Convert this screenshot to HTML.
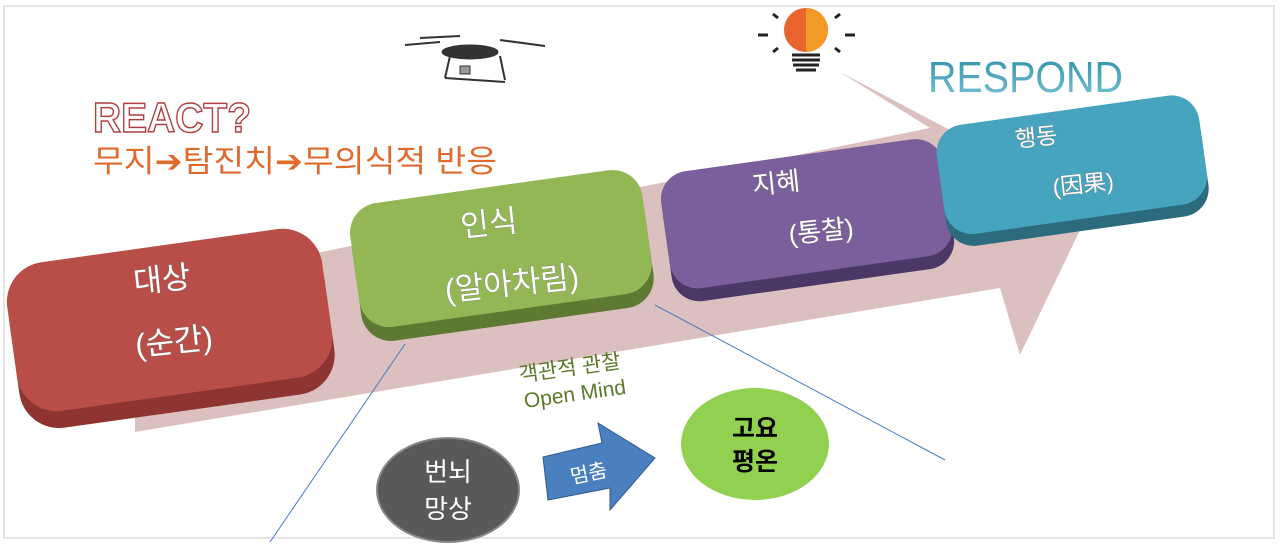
<!DOCTYPE html>
<html><head><meta charset="utf-8"><style>
html,body{margin:0;padding:0;background:#fff;}
svg{display:block;font-family:"Liberation Sans","Noto Sans CJK KR",sans-serif;}
</style></head><body>
<svg width="1280" height="548" viewBox="0 0 1280 548" xmlns="http://www.w3.org/2000/svg">
<defs>
<linearGradient id="resp" x1="0" y1="0" x2="0" y2="1"><stop offset="0" stop-color="#2a8fa8"/><stop offset="1" stop-color="#7cc3d4"/></linearGradient>
</defs>
<rect x="0" y="0" width="1280" height="548" fill="#fff"/>
<rect x="4" y="6" width="1270" height="532" fill="none" stroke="#e6e6e6" stroke-width="2"/>
<polygon points="135,290 930,128 840,72 1092,205 1020,355 1000,288 135,432" fill="#dcc0c0"/>
<line x1="405" y1="344" x2="270" y2="542" stroke="#4a7cc4" stroke-width="1"/>
<line x1="655" y1="305" x2="945" y2="460" stroke="#4a7cc4" stroke-width="1"/>
<g transform="rotate(-8 170 330)">
<rect x="12" y="262" width="318" height="150" rx="40" fill="#8e3532"/>
<rect x="12" y="245" width="318" height="150" rx="40" fill="#b94d47"/>
</g>
<g transform="rotate(-8 502 260)">
<rect x="355" y="200" width="295" height="125" rx="30" fill="#5e7a32"/>
<rect x="355" y="186" width="295" height="125" rx="30" fill="#94b756"/>
</g>
<g transform="rotate(-8 805 220)">
<rect x="665" y="168" width="285" height="118" rx="28" fill="#4b3867"/>
<rect x="665" y="155" width="285" height="118" rx="28" fill="#7a5f9c"/>
</g>
<g transform="rotate(-8 1070 170)">
<rect x="940" y="122" width="265" height="110" rx="28" fill="#2c6b7d"/>
<rect x="940" y="110" width="265" height="110" rx="28" fill="#47a4bf"/>
</g>
<g fill="#fff" style="paint-order:stroke" stroke="#777" stroke-width="0.6" font-size="31">
<text x="163" y="290" text-anchor="middle" transform="rotate(-6 163 290)">대상</text>
<text x="175" y="352" text-anchor="middle" transform="rotate(-6 175 352)">(순간)</text>
<text x="490" y="234" text-anchor="middle" transform="rotate(-6 490 234)">인식</text>
<text x="513" y="294" text-anchor="middle" transform="rotate(-6 513 294)">(알아차림)</text>
<text x="777" y="192" text-anchor="middle" font-size="26" transform="rotate(-6 777 192)">지혜</text>
<text x="822" y="240" text-anchor="middle" font-size="26" transform="rotate(-6 822 240)">(통찰)</text>
<text x="1037" y="145" text-anchor="middle" font-size="23" transform="rotate(-6 1037 145)">행동</text>
<text x="1084" y="192" text-anchor="middle" font-size="23" transform="rotate(-6 1084 192)">(因果)</text>
</g>
<text x="93" y="132" font-size="42" font-weight="bold" fill="#fff" stroke="#b04040" stroke-width="1.5" textLength="158" lengthAdjust="spacingAndGlyphs">REACT?</text>
<text x="93" y="172" font-size="31" fill="#e06a2c" textLength="404" lengthAdjust="spacingAndGlyphs">무지➔탐진치➔무의식적 반응</text>
<text x="928" y="92" font-size="44" fill="url(#resp)" textLength="195" lengthAdjust="spacingAndGlyphs">RESPOND</text>
<g stroke="#333" fill="#333">
<line x1="405" y1="45" x2="440" y2="42" stroke-width="2"/>
<line x1="500" y1="40" x2="545" y2="46" stroke-width="2"/>
<line x1="460" y1="36" x2="420" y2="38" stroke-width="2"/>
<ellipse cx="470" cy="52" rx="28" ry="7"/>
<line x1="450" y1="56" x2="445" y2="78" stroke-width="2" fill="none"/>
<line x1="500" y1="56" x2="505" y2="80" stroke-width="2" fill="none"/>
<line x1="445" y1="78" x2="505" y2="82" stroke-width="2"/>
<rect x="460" y="66" width="10" height="8" fill="#999"/>
</g>
<circle cx="806" cy="30" r="22" fill="#e8642c"/>
<path d="M806 8 A22 22 0 0 1 806 52 Z" fill="#f29a25"/>
<g stroke="#222" stroke-width="3">
<line x1="792" y1="55" x2="820" y2="55"/><line x1="792" y1="60" x2="820" y2="60"/><line x1="793" y1="65" x2="819" y2="65"/><line x1="796" y1="70" x2="816" y2="70"/>
<line x1="758" y1="35" x2="768" y2="35"/><line x1="845" y1="35" x2="855" y2="35"/>
<line x1="773" y1="14" x2="778" y2="18"/><line x1="840" y1="14" x2="835" y2="18"/>
<line x1="773" y1="52" x2="778" y2="48"/><line x1="840" y1="52" x2="835" y2="48"/>
</g>
<g fill="#5a7a2a" font-size="21">
<text x="520" y="382" transform="rotate(-8 520 382)">객관적 관찰</text>
<text x="525" y="408" transform="rotate(-8 525 408)">Open Mind</text>
</g>
<ellipse cx="448" cy="490" rx="71" ry="52" fill="#595959" stroke="#888" stroke-width="2"/>
<text x="448" y="481" font-size="26" fill="#fff" text-anchor="middle">번뇌</text>
<text x="448" y="518" font-size="26" fill="#fff" text-anchor="middle">망상</text>
<polygon points="543,457 602,443 598,423 655,458 610,510 610,488 548,500" fill="#4a80c0" stroke="#2f5a90" stroke-width="1"/>
<text x="590" y="480" font-size="20" fill="#fff" text-anchor="middle" transform="rotate(-12 590 480)">멈춤</text>
<ellipse cx="755" cy="444" rx="74" ry="56" fill="#92d050"/>
<text x="755" y="437" font-size="25" font-weight="bold" fill="#000" text-anchor="middle">고요</text>
<text x="755" y="470" font-size="25" font-weight="bold" fill="#000" text-anchor="middle">평온</text>
</svg>
</body></html>
